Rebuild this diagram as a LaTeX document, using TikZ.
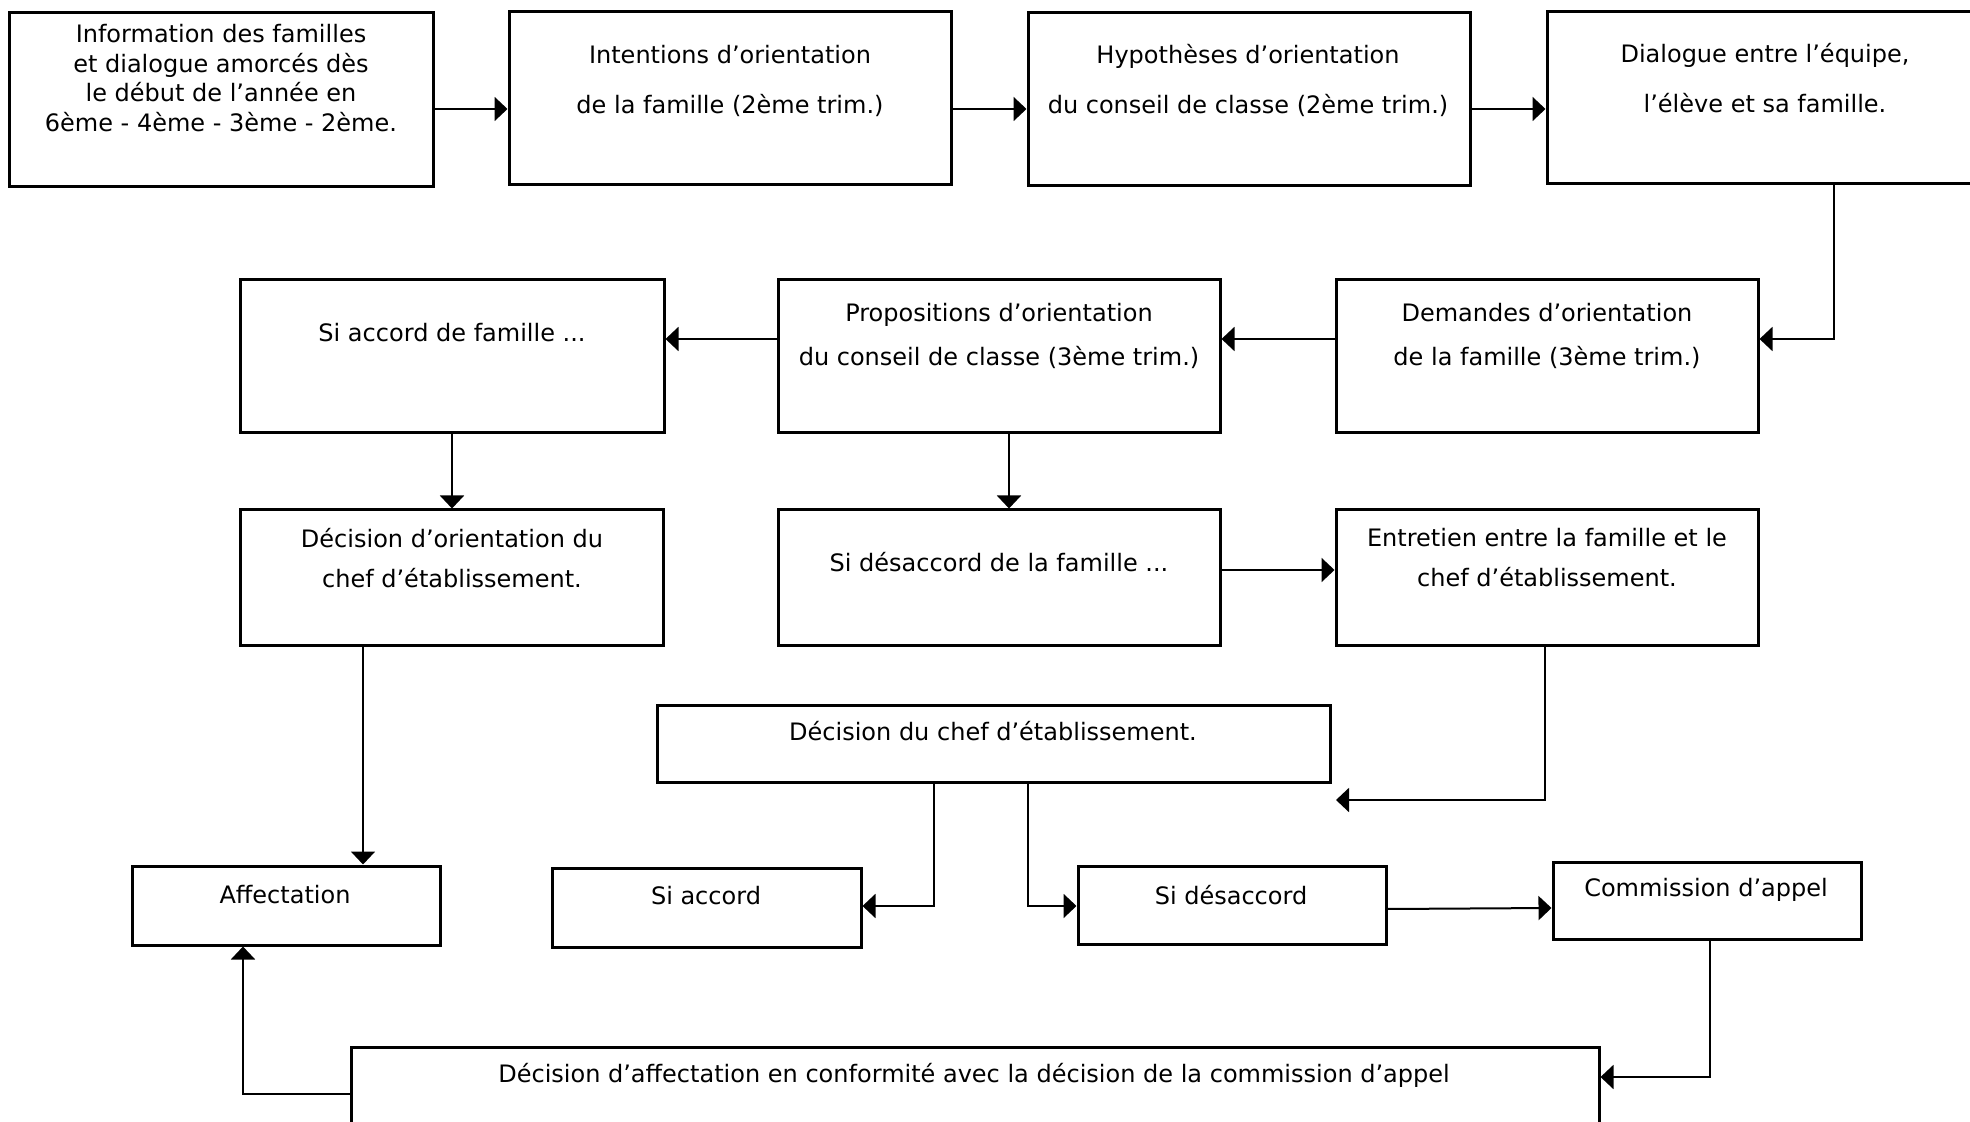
\documentclass[tikz,border=0pt]{standalone}
\usepackage{fontspec}
\setmainfont{DejaVu Sans}
\usetikzlibrary{arrows.meta,fit}
\tikzset{
  box/.style={draw, line width=1.5pt, inner sep=0pt, fit={#1}},
  txt/.style={align=center, inner sep=0pt, font=\fontsize{12}{14.75}\selectfont},
  arr/.style={draw, line width=1pt, -{Triangle[length=6.5pt,width=12pt]}},
  ln/.style={draw, line width=1pt}
}
\begin{document}
\begin{tikzpicture}[x=0.5pt,y=-0.5pt]
\useasboundingbox (0,0) rectangle (1970,1122);
\clip (0,0) rectangle (1970,1122);
% boxes
\node[box={(9,13)(433,187)}] (b1) {};
\node[box={(509,12)(951,185)}] (b2) {};
\node[box={(1028,13)(1470,186)}] (b3) {};
\node[box={(1547,12)(1990,184)}] (b4) {};
\node[box={(240,280)(664,433)}] (r2a) {};
\node[box={(778,280)(1220,433)}] (r2b) {};
\node[box={(1336,280)(1758,433)}] (r2c) {};
\node[box={(240,510)(663,645)}] (r3a) {};
\node[box={(778,510)(1220,645)}] (r3b) {};
\node[box={(1336,510)(1758,645)}] (r3c) {};
\node[box={(657,705)(1330,782)}] (dc) {};
\node[box={(132,866)(440,945)}] (r4a) {};
\node[box={(552,868)(861,947)}] (r4b) {};
\node[box={(1078,866)(1386,944)}] (r4c) {};
\node[box={(1553,862)(1861,939)}] (r4d) {};
\node[box={(351,1047)(1599,1140)}] (bot) {};
% texts
\node[txt] (t1) at (221,78) {Information des familles\\et dialogue amorcés dès\\le début de l’année en\\6ème - 4ème - 3ème - 2ème.};
\node[txt, font=\fontsize{12}{25}\selectfont] (t2) at (730,81) {Intentions d’orientation\\de la famille (2ème trim.)};
\node[txt, font=\fontsize{12}{25}\selectfont] (t3) at (1248,80.5) {Hypothèses d’orientation\\du conseil de classe (2ème trim.)};
\node[txt, font=\fontsize{12}{25}\selectfont] (t4) at (1765,78) {Dialogue entre l’équipe,\\l’élève et sa famille.};
\node[txt] (t5) at (452,333) {Si accord de famille ...};
\node[txt, font=\fontsize{12}{22}\selectfont] (t6) at (999,336) {Propositions d’orientation\\du conseil de classe (3ème trim.)};
\node[txt, font=\fontsize{12}{22}\selectfont] (t7) at (1547,336) {Demandes d’orientation\\de la famille (3ème trim.)};
\node[txt, font=\fontsize{12}{20}\selectfont] (t8) at (452,558) {Décision d’orientation du\\chef d’établissement.};
\node[txt] (t9) at (999,562) {Si désaccord de la famille ...};
\node[txt, font=\fontsize{12}{20}\selectfont] (t10) at (1547,558) {Entretien entre la famille et le\\chef d’établissement.};
\node[txt] (t11) at (993,731) {Décision du chef d’établissement.};
\node[txt] (t12) at (285,895) {Affectation};
\node[txt] (t13) at (706,896) {Si accord};
\node[txt] (t14) at (1231,895) {Si désaccord};
\node[txt] (t15) at (1706,890) {Commission d’appel};
\node[txt] (t16) at (974,1075) {Décision d’affectation en conformité avec la décision de la commission d’appel};
% free end
\coordinate (e1) at (1336,800);
% connectors
\draw[arr] (b1.east |- 0,109) -- (b2.west |- 0,109);
\draw[arr] (b2.east |- 0,109) -- (b3.west |- 0,109);
\draw[arr] (b3.east |- 0,109) -- (b4.west |- 0,109);
\draw[arr] (b4.south -| 1834,0) |- (r2c.east |- 0,339);
\draw[arr] (r2c.west |- 0,339) -- (r2b.east |- 0,339);
\draw[arr] (r2b.west |- 0,339) -- (r2a.east |- 0,339);
\draw[arr] (r2a.south -| 452,0) -- (r3a.north -| 452,0);
\draw[arr] (r2b.south -| 1009,0) -- (r3b.north -| 1009,0);
\draw[arr] (r3b.east |- 0,570) -- (r3c.west |- 0,570);
\draw[arr] (r3c.south -| 1545,0) |- (e1);
\draw[arr] (r3a.south -| 363,0) -- (r4a.north -| 363,0);
\draw[arr] (dc.south -| 934,0) |- (r4b.east |- 0,906);
\draw[arr] (dc.south -| 1028,0) |- (r4c.west |- 0,906);
\draw[arr] (r4c.east |- 0,909) -- (r4d.west |- 0,908);
\draw[arr] (r4d.south -| 1710,0) |- (bot.east |- 0,1077);
\draw[arr] (bot.west |- 0,1094) -| (r4a.south -| 243,0);
\end{tikzpicture}
\end{document}
